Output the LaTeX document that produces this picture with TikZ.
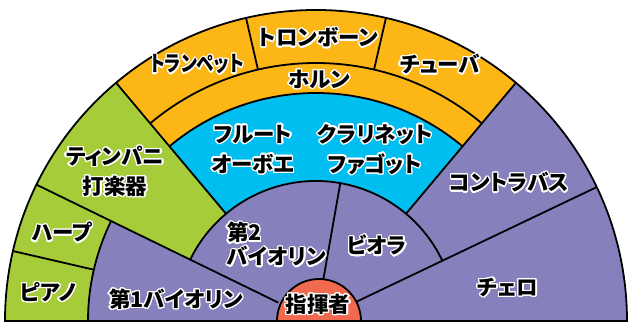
\documentclass[tikz,border=0pt]{standalone}
\usepackage{fontspec}
\newfontfamily\jp{Noto Sans CJK JP}[RawFeature=+palt]
\usepackage{contour}
\contourlength{1.3pt}
\contournumber{24}
\definecolor{brass}{RGB}{252,183,22}
\definecolor{wood}{RGB}{0,190,240}
\definecolor{perc}{RGB}{166,205,57}
\definecolor{str}{RGB}{134,129,189}
\definecolor{cond}{RGB}{241,106,80}
\newcommand{\ct}[1]{\contour{white}{#1}}
\begin{document}
\begin{tikzpicture}[x=1pt,y=1pt,
  lab/.style={font=\jp\bfseries\fontsize{21.5}{30}\selectfont, text=black, align=center, inner sep=0pt},
  edge/.style={line width=1.8pt, black}]
\useasboundingbox (-316,-2) rectangle (313,321);
% fills
\fill[str] (-311,0) arc[start angle=180,end angle=0,radius=311pt] -- cycle;
\fill[brass] (50:228) arc[start angle=50,end angle=130,radius=228pt] -- (130:311) arc[start angle=130,end angle=50,radius=311pt] -- cycle;
\fill[wood] (50:140) arc[start angle=50,end angle=130,radius=140pt] -- (130:228) arc[start angle=130,end angle=50,radius=228pt] -- cycle;
\fill[perc] (130:140) arc[start angle=130,end angle=154,radius=140pt] -- (154:228) arc[start angle=154,end angle=180,radius=228pt] -- (180:311) arc[start angle=180,end angle=130,radius=311pt] -- cycle;
% coordinates
\coordinate (o) at (0,0);
\foreach \n/\a in {a/25.5,b/50,c/77,d/80,e/103,f/130,g/154,h/167}{
  \coordinate (\n0) at (\a:42);
  \coordinate (\n2) at (\a:140);
  \coordinate (\n1) at (\a:228);
  \coordinate (\n3) at (\a:258);
  \coordinate (\n4) at (\a:311);
}
% arcs
\draw[edge] (b1) arc[start angle=50,end angle=130,radius=228pt];
\draw[edge] (g1) arc[start angle=154,end angle=180,radius=228pt];
\draw[edge] (b3) arc[start angle=50,end angle=130,radius=258pt];
\draw[edge] (a2) arc[start angle=25.5,end angle=154,radius=140pt];
% radial lines
\draw[edge] (a0) -- (a4);
\draw[edge] (b2) -- (b4);
\draw[edge] (c3) -- (c4);
\draw[edge] (d0) -- (d2);
\draw[edge] (e3) -- (e4);
\draw[edge] (f2) -- (f4);
\draw[edge] (g0) -- (g4);
\draw[edge] (h1) -- (h4);
% outer border
\draw[edge] (-311,0) arc[start angle=180,end angle=0,radius=311pt] -- cycle;
% conductor
\fill[cond] (-39,0) arc[start angle=180,end angle=0,radius=42pt] -- cycle;
\draw[edge] (-39,0) arc[start angle=180,end angle=0,radius=42pt];
\draw[edge] (-311,0) -- (311,0);
% labels
\node[lab] (tp) at (-119,256) {\scalebox{0.82}[1]{\ct{トランペット}}};
\node[lab] (tb) at (2,283) {\ct{トロンボーン}};
\node[lab] (tu) at (124,256) {\ct{チューバ}};
\node[lab] (hr) at (3,241) {\ct{ホルン}};
\node[lab] (fl) at (-63,171) {\ct{フルート}\\\ct{オーボエ}};
\node[lab] (cl) at (59,171) {\ct{クラリネット}\\\ct{ファゴット}};
\node[lab] (ti) at (-201,149) {\ct{ティンパニ}\\\ct{打楽器}};
\node[lab] (hp) at (-254,88) {\ct{ハープ}};
\node[lab] (pf) at (-268,28) {\ct{ピアノ}};
\node[lab] (v1) at (-140,21) {\ct{第1バイオリン}};
\node[lab, align=left, anchor=west, font=\jp\bfseries\fontsize{21.5}{24}\selectfont] (v2) at (-89,76) {\ct{第2}\\\ct{バイオリン}};
\node[lab] (va) at (61,75) {\ct{ビオラ}};
\node[lab] (cb) at (193,138) {\ct{コントラバス}};
\node[lab] (vc) at (192,33) {\ct{チェロ}};
\node[lab] (cd) at (2,16) {\ct{指揮者}};
\end{tikzpicture}
\end{document}
